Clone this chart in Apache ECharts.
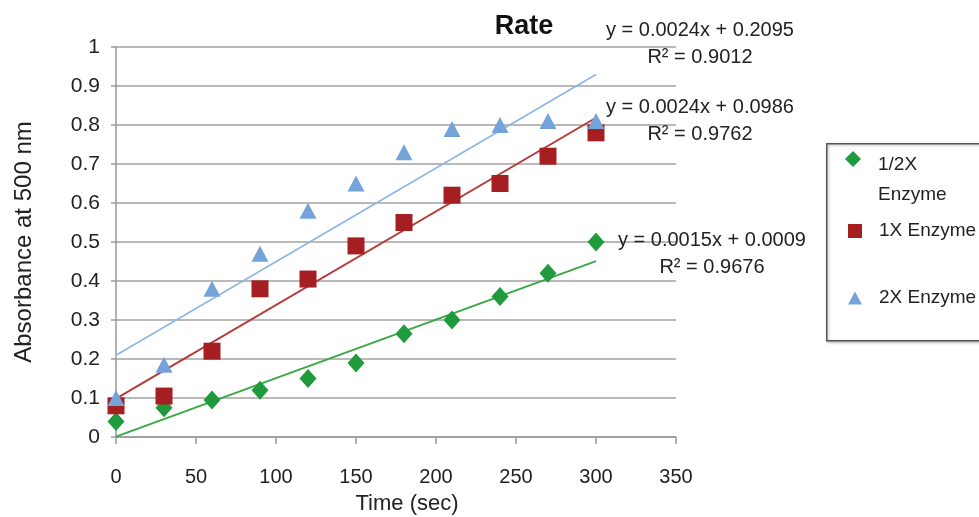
<!DOCTYPE html>
<html>
<head>
<meta charset="utf-8">
<script src="https://cdn.jsdelivr.net/npm/echarts@6/dist/echarts.min.js"></script>
<style>html,body{margin:0;padding:0;background:#fff}#c{width:979px;height:517px}</style>
</head>
<body>
<div id="c"></div>
<script>
// ---- data ----
const timeSec = [0, 30, 60, 90, 120, 150, 180, 210, 240, 270, 300];
const halfEnzyme = [0.04, 0.075, 0.095, 0.12, 0.15, 0.19, 0.265, 0.30, 0.36, 0.42, 0.50];
const oneEnzyme  = [0.08, 0.105, 0.22, 0.38, 0.405, 0.49, 0.55, 0.62, 0.65, 0.72, 0.78];
const twoEnzyme  = [0.10, 0.185, 0.38, 0.47, 0.58, 0.65, 0.73, 0.79, 0.80, 0.81, 0.81];
// linear trendlines (from the chart's equations), endpoints at x = 0 and x = 300
const trendHalf = [[0, 0.0009], [300, 0.4509]];
const trendOne  = [[0, 0.0986], [300, 0.8186]];
const trendTwo  = [[0, 0.2095], [300, 0.9295]];
const eqHalf = ['y = 0.0015x + 0.0009', 'R² = 0.9676'];
const eqOne  = ['y = 0.0024x + 0.0986', 'R² = 0.9762'];
const eqTwo  = ['y = 0.0024x + 0.2095', 'R² = 0.9012'];
const seriesNames = ['1/2X Enzyme', '1X Enzyme', '2X Enzyme'];
const xTicks = [0, 50, 100, 150, 200, 250, 300, 350];
const yTicks = [0, 0.1, 0.2, 0.3, 0.4, 0.5, 0.6, 0.7, 0.8, 0.9, 1];

const FONT = "'Liberation Sans Narrow', 'Liberation Sans', Arial, sans-serif";
const cGreen = '#1f9a3c', cRed = '#a51e22', cBlue = '#74a3d9';
const pair = (xs, ys) => xs.map((x, i) => [x, ys[i]]);

const chart = echarts.init(document.getElementById('c'), null, {renderer: 'canvas'});

function eqText(lines, x, y) {
  return {
    type: 'text', left: x, top: y, z: 100,
    style: {text: lines.join('\n'), font: '20px ' + FONT, fill: '#222', lineHeight: 27, align: 'center', textAlign: 'center'}
  };
}

const legendBase = {
  orient: 'vertical', padding: 0, itemGap: 0,
  textStyle: {fontFamily: FONT, fontSize: 19, color: '#222', lineHeight: 30, padding: [0, 0, 0, 12]},
  selectedMode: false
};

const option = {
  backgroundColor: '#fff',
  animation: false,
  title: {
    text: 'Rate', left: 519, top: 8, textAlign: 'center',
    textStyle: {fontFamily: FONT, fontSize: 27, fontWeight: 'bold', color: '#111'}
  },
  grid: {left: 116, right: 303, top: 47, bottom: 80, containLabel: false, outerBoundsMode: 'none'},
  xAxis: {
    type: 'value', min: 0, max: 350, interval: 50,
    name: 'Time (sec)', nameLocation: 'middle', nameGap: 56,
    nameTextStyle: {fontFamily: FONT, fontSize: 22, color: '#222', padding: [0, 0, 0, 22]},
    axisLine: {show: true, lineStyle: {color: '#999', width: 1.5}},
    axisTick: {show: true, inside: false, length: 7, lineStyle: {color: '#999', width: 1.5}},
    axisLabel: {margin: 30, fontFamily: FONT, fontSize: 20, color: '#222'},
    splitLine: {show: false}
  },
  yAxis: {
    type: 'value', min: 0, max: 1, interval: 0.1,
    name: 'Absorbance at 500 nm', nameLocation: 'middle', nameGap: 80, nameRotate: 90,
    nameTextStyle: {fontFamily: FONT, fontSize: 24, color: '#222'},
    axisLine: {show: true, lineStyle: {color: '#999', width: 1.5}},
    axisTick: {show: true, length: 5, lineStyle: {color: '#999', width: 1.5}},
    axisLabel: {margin: 16, fontFamily: FONT, fontSize: 21, color: '#222',
      formatter: v => String(Math.round(v * 10) / 10)},
    splitLine: {show: true, lineStyle: {color: '#b9b9b9', width: 2}}
  },
  legend: [
    Object.assign({}, legendBase, {
      left: 845, top: 150, data: [seriesNames[0]],
      itemWidth: 16, itemHeight: 58,
      icon: 'path://M8,0 L16,8 L8,16 L0,8 Z M8,58 L8.01,58 Z',
      formatter: n => n.replace(' ', '\n')
    }),
    Object.assign({}, legendBase, {
      left: 848, top: 216, data: [seriesNames[1]],
      itemWidth: 14, itemHeight: 14, icon: 'rect'
    }),
    Object.assign({}, legendBase, {
      left: 848, top: 283, data: [seriesNames[2]],
      itemWidth: 14, itemHeight: 13, icon: 'triangle'
    })
  ],
  graphic: [
    {type: 'rect', left: 826, top: 143, z: -1,
      shape: {width: 170, height: 197},
      style: {fill: '#fff', stroke: '#555', lineWidth: 1.5, shadowBlur: 3, shadowColor: 'rgba(0,0,0,0.3)', shadowOffsetX: 1, shadowOffsetY: 1}},
    eqText(eqTwo, 606, 17),
    eqText(eqOne, 606, 94),
    eqText(eqHalf, 618, 227)
  ],
  series: [
    {name: 'trend ' + seriesNames[0], type: 'line', data: trendHalf, symbol: 'none', silent: true,
      lineStyle: {color: '#3aa845', width: 2}, z: 1},
    {name: 'trend ' + seriesNames[1], type: 'line', data: trendOne, symbol: 'none', silent: true,
      lineStyle: {color: '#b53a3a', width: 2}, z: 1},
    {name: 'trend ' + seriesNames[2], type: 'line', data: trendTwo, symbol: 'none', silent: true,
      lineStyle: {color: '#8fb5e4', width: 1.6}, z: 1},
    {name: seriesNames[0], type: 'scatter', data: pair(timeSec, halfEnzyme), symbol: 'diamond',
      symbolSize: [17, 19], itemStyle: {color: cGreen, opacity: 1}, z: 3},
    {name: seriesNames[1], type: 'scatter', data: pair(timeSec, oneEnzyme), symbol: 'rect',
      symbolSize: 17, itemStyle: {color: cRed, opacity: 1}, z: 4},
    {name: seriesNames[2], type: 'scatter', data: pair(timeSec, twoEnzyme), symbol: 'triangle',
      symbolSize: [17, 16], itemStyle: {color: cBlue, opacity: 1}, z: 5}
  ]
};
chart.setOption(option);
</script>
</body>
</html>
